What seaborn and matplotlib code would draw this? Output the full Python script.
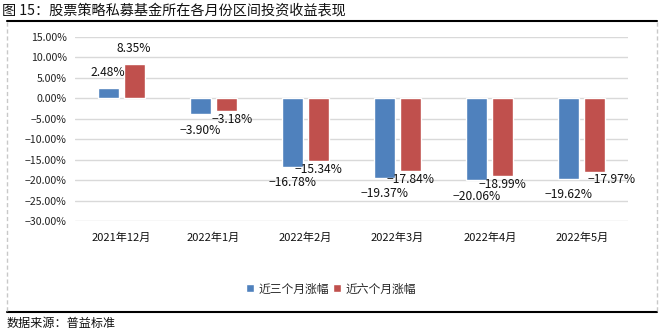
import matplotlib
matplotlib.use("Agg")
import matplotlib.pyplot as plt
from matplotlib.lines import Line2D
import seaborn as sns
import pandas as pd

# ---- data ----
categories = ["2021年12月", "2022年1月", "2022年2月", "2022年3月", "2022年4月", "2022年5月"]
series_names = ["近三个月涨幅", "近六个月涨幅"]
three_month = [2.48, -3.90, -16.78, -19.37, -20.06, -19.62]
six_month = [8.35, -3.18, -15.34, -17.84, -18.99, -17.97]
yticks = [15, 10, 5, 0, -5, -10, -15, -20, -25, -30]
title_text = "图 15：股票策略私募基金所在各月份区间投资收益表现"
source_text = "数据来源：普益标准"

colors = ["#4F81BD", "#C0504D"]

df = pd.DataFrame({
    "cat": categories * 2,
    "series": [series_names[0]] * len(categories) + [series_names[1]] * len(categories),
    "val": three_month + six_month,
})

sns.set_theme(style="white")
plt.rcParams["font.family"] = ["Noto Sans CJK SC", "DejaVu Sans"]
plt.rcParams["axes.unicode_minus"] = True

W, H = 665, 333
fig = plt.figure(figsize=(W / 100, H / 100), dpi=100)
ax = fig.add_axes([75 / W, 1 - 221 / H, (628 - 75) / W, (221 - 37) / H])

sns.barplot(data=df, x="cat", y="val", hue="series", order=categories,
            hue_order=series_names, palette=colors, width=0.565, gap=0.19,
            saturation=1, ax=ax, legend=True)

ax.set_ylim(-30, 15)
ax.set_xlim(-0.5, len(categories) - 0.5)
ax.set_yticks(yticks)
ax.set_yticklabels([f"{v:.2f}%".replace("-", "−") for v in yticks], fontsize=7.6, color="#222222")
ax.tick_params(axis="x", labelsize=8, colors="#111111", length=0, pad=8)
ax.tick_params(axis="y", length=0, pad=6)
ax.set_xlabel("")
ax.set_ylabel("")
for s in ax.spines.values():
    s.set_visible(False)
ax.yaxis.grid(True, color="#d9d9d9", linewidth=1)
ax.set_axisbelow(True)

# data labels
red_dx = [0, 6, 0, 0, 0, 17]
for i, cont in enumerate(ax.containers):
    for j, bar in enumerate(cont):
        v = bar.get_height()
        xc = bar.get_x() + bar.get_width() / 2
        if v >= 0:
            dy = 11.5
        else:
            dy = -11.5 if i == 0 else -5.8
        dx = 0 if i == 0 else red_dx[j] * 0.72
        ax.annotate(f"{v:.2f}%".replace("-", "−"), (xc, v), xytext=(dx, dy),
                    textcoords="offset points", ha="center", va="center",
                    fontsize=8.7, color="#111111")

# legend
handles, labels = ax.get_legend_handles_labels()
ax.get_legend().remove()
fig.legend(handles, labels, loc="center", bbox_to_anchor=(331 / W, 1 - 289 / H),
           ncol=2, frameon=False, fontsize=8.5, handlelength=0.65, handleheight=0.65,
           handletextpad=0.35, columnspacing=0.4)

# frame decorations
fig.text(2 / W, 1 - 10 / H, title_text, fontsize=10.2, ha="left", va="center", color="#111111")
fig.text(7 / W, 1 - 323 / H, source_text, fontsize=8.7, ha="left", va="center", color="#111111")
fig.add_artist(Line2D([7 / W, 657 / W], [1 - 21 / H, 1 - 21 / H], color="black", lw=1.5))
fig.add_artist(Line2D([7 / W, 657 / W], [1 - 312 / H, 1 - 312 / H], color="black", lw=1.5))
for xx in (7, 657):
    fig.add_artist(Line2D([xx / W, xx / W], [1 - 22 / H, 1 - 311 / H], color="#c8c8c8",
                          lw=1, linestyle=(0, (3, 2))))

fig.savefig("out.png", dpi=100)
